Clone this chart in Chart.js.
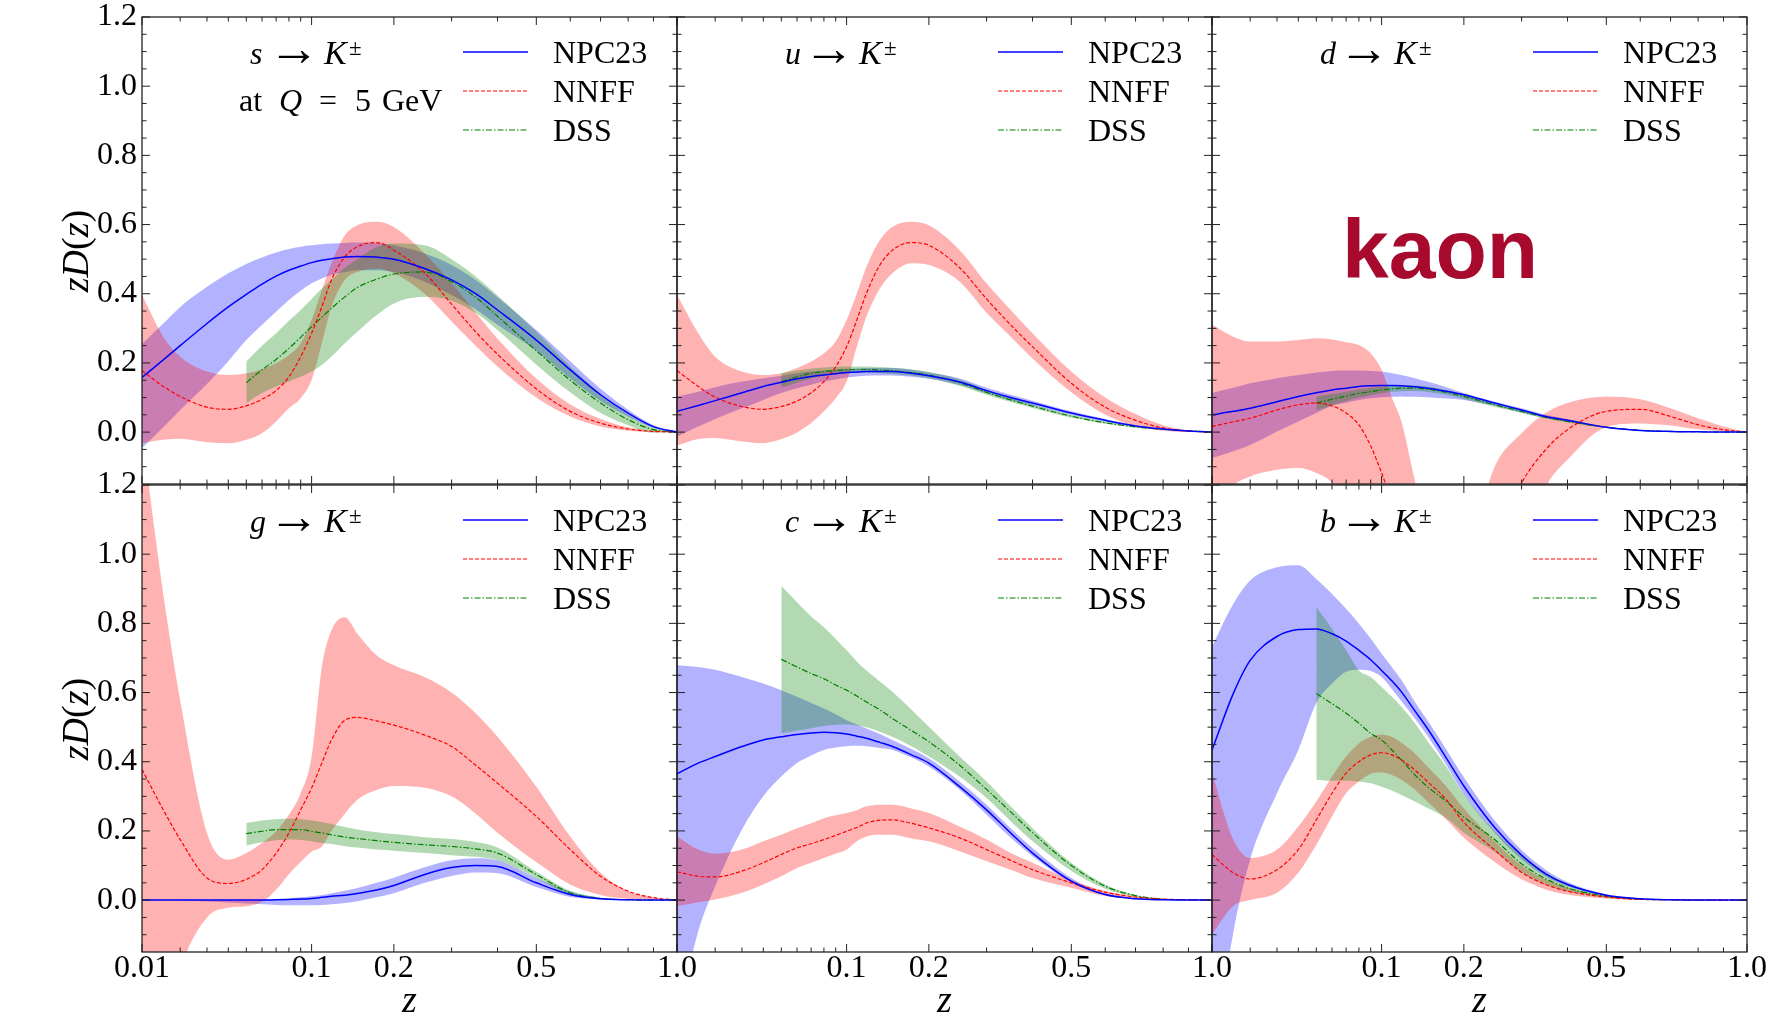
<!DOCTYPE html>
<html>
<head>
<meta charset="utf-8">
<script src="https://cdn.jsdelivr.net/npm/chart.js@4.4.1/dist/chart.umd.min.js"></script>
<style>
  body { margin: 0; background: #fff; }
  #wrap { position: relative; width: 1773px; height: 1017px; background: #fff; overflow: hidden; }
  #wrap canvas { position: absolute; }
</style>
</head>
<body>
<div id="wrap"></div>
<script>
// z grid shared by the curves (DSS only starts at z = 0.05)
const zGrid = [0.01, 0.015, 0.02, 0.03, 0.04, 0.05, 0.06, 0.07, 0.08, 0.09, 0.1, 0.11, 0.12, 0.135, 0.15, 0.175, 0.2, 0.25, 0.3, 0.35, 0.4, 0.5, 0.6, 0.7, 0.8, 0.9, 1.0];
const zDss = [0.05, 0.06, 0.07, 0.08, 0.09, 0.1, 0.11, 0.12, 0.135, 0.15, 0.175, 0.2, 0.25, 0.3, 0.35, 0.4, 0.5, 0.6, 0.7, 0.8, 0.9, 1.0];

// s -> K
const sNpc   = [0.158, 0.209, 0.25, 0.314, 0.362, 0.398, 0.428, 0.451, 0.468, 0.48, 0.49, 0.497, 0.501, 0.506, 0.508, 0.506, 0.5, 0.473, 0.44, 0.40, 0.353, 0.266, 0.18, 0.108, 0.055, 0.016, 0];
const sNpcHi = [0.255, 0.314, 0.362, 0.42, 0.459, 0.486, 0.505, 0.519, 0.529, 0.536, 0.54, 0.543, 0.545, 0.547, 0.548, 0.547, 0.54, 0.516, 0.483, 0.44, 0.39, 0.295, 0.205, 0.125, 0.065, 0.02, 0];
const sNpcLo = [-0.046, 0.014, 0.064, 0.139, 0.205, 0.266, 0.31, 0.348, 0.382, 0.409, 0.43, 0.444, 0.454, 0.463, 0.468, 0.468, 0.463, 0.435, 0.396, 0.355, 0.31, 0.235, 0.155, 0.09, 0.045, 0.012, 0];
const sNnff   = [0.178, 0.132, 0.103, 0.072, 0.066, 0.076, 0.095, 0.12, 0.16, 0.218, 0.286, 0.362, 0.44, 0.507, 0.536, 0.548, 0.526, 0.46, 0.37, 0.29, 0.225, 0.125, 0.06, 0.026, 0.009, 0.002, 0];
const sNnffHi = [0.396, 0.276, 0.218, 0.175, 0.165, 0.17, 0.182, 0.199, 0.223, 0.257, 0.324, 0.41, 0.488, 0.569, 0.598, 0.608, 0.593, 0.516, 0.43, 0.345, 0.27, 0.155, 0.08, 0.038, 0.014, 0.003, 0];
const sNnffLo = [-0.032, -0.022, -0.019, -0.029, -0.032, -0.022, -0.003, 0.031, 0.069, 0.098, 0.151, 0.257, 0.362, 0.44, 0.463, 0.473, 0.459, 0.40, 0.32, 0.25, 0.19, 0.10, 0.045, 0.016, 0.004, 0, 0];
const sDss   = [0.143, 0.18, 0.21, 0.242, 0.274, 0.305, 0.332, 0.358, 0.391, 0.418, 0.442, 0.457, 0.463, 0.435, 0.39, 0.335, 0.235, 0.15, 0.084, 0.036, 0.007, 0];
const sDssHi = [0.204, 0.25, 0.286, 0.322, 0.353, 0.385, 0.415, 0.44, 0.475, 0.5, 0.535, 0.545, 0.54, 0.5, 0.45, 0.395, 0.29, 0.19, 0.11, 0.05, 0.013, 0];
const sDssLo = [0.084, 0.113, 0.132, 0.146, 0.16, 0.175, 0.194, 0.218, 0.257, 0.29, 0.338, 0.372, 0.391, 0.38, 0.345, 0.295, 0.195, 0.115, 0.055, 0.02, -0.002, 0];

// u -> K
const uNpc   = [0.06, 0.077, 0.091, 0.114, 0.132, 0.144, 0.154, 0.161, 0.165, 0.169, 0.172, 0.174, 0.175, 0.175, 0.175, 0.17, 0.163, 0.145, 0.12, 0.1, 0.084, 0.055, 0.034, 0.018, 0.009, 0.003, 0];
const uNpcHi = [0.103, 0.117, 0.13, 0.146, 0.156, 0.163, 0.17, 0.175, 0.178, 0.181, 0.183, 0.184, 0.185, 0.185, 0.185, 0.18, 0.172, 0.155, 0.128, 0.108, 0.091, 0.06, 0.038, 0.02, 0.01, 0.003, 0];
const uNpcLo = [-0.013, 0.016, 0.038, 0.069, 0.093, 0.113, 0.127, 0.137, 0.146, 0.152, 0.158, 0.161, 0.163, 0.164, 0.164, 0.16, 0.154, 0.136, 0.112, 0.092, 0.077, 0.05, 0.03, 0.016, 0.008, 0.002, 0];
const uNnff   = [0.178, 0.132, 0.101, 0.074, 0.066, 0.074, 0.09, 0.114, 0.146, 0.189, 0.247, 0.324, 0.401, 0.483, 0.526, 0.548, 0.54, 0.475, 0.385, 0.31, 0.247, 0.141, 0.072, 0.034, 0.012, 0.003, 0];
const uNnffHi = [0.396, 0.286, 0.218, 0.175, 0.165, 0.17, 0.185, 0.204, 0.228, 0.262, 0.324, 0.401, 0.478, 0.555, 0.593, 0.608, 0.598, 0.526, 0.43, 0.353, 0.286, 0.175, 0.1, 0.052, 0.02, 0.005, 0];
const uNnffLo = [-0.039, -0.02, -0.017, -0.027, -0.032, -0.02, -0.001, 0.026, 0.06, 0.098, 0.146, 0.247, 0.334, 0.415, 0.459, 0.488, 0.483, 0.435, 0.345, 0.276, 0.213, 0.115, 0.05, 0.017, 0.004, 0, 0];
const uDss   = [0.146, 0.16, 0.17, 0.175, 0.178, 0.18, 0.181, 0.181, 0.179, 0.177, 0.172, 0.165, 0.143, 0.115, 0.093, 0.075, 0.046, 0.027, 0.015, 0.008, 0.004, 0];
const uDssHi = [0.17, 0.178, 0.184, 0.187, 0.189, 0.19, 0.19, 0.19, 0.188, 0.186, 0.181, 0.174, 0.152, 0.122, 0.099, 0.08, 0.05, 0.03, 0.017, 0.009, 0.004, 0];
const uDssLo = [0.129, 0.143, 0.155, 0.163, 0.167, 0.17, 0.172, 0.172, 0.17, 0.168, 0.163, 0.156, 0.134, 0.108, 0.087, 0.07, 0.042, 0.024, 0.013, 0.007, 0.003, 0];

// d -> K
const dNpc   = [0.05, 0.06, 0.069, 0.088, 0.103, 0.114, 0.122, 0.127, 0.132, 0.134, 0.135, 0.135, 0.134, 0.131, 0.127, 0.118, 0.108, 0.084, 0.064, 0.045, 0.034, 0.014, 0.005, 0.002, 0.001, 0, 0];
const dNpcHi = [0.113, 0.128, 0.141, 0.156, 0.165, 0.172, 0.177, 0.178, 0.178, 0.177, 0.175, 0.17, 0.165, 0.156, 0.146, 0.13, 0.113, 0.088, 0.069, 0.05, 0.038, 0.016, 0.006, 0.002, 0.001, 0, 0];
const dNpcLo = [-0.075, -0.055, -0.037, 0.002, 0.031, 0.055, 0.076, 0.085, 0.093, 0.098, 0.101, 0.102, 0.103, 0.102, 0.101, 0.097, 0.093, 0.076, 0.057, 0.04, 0.03, 0.012, 0.004, 0.001, 0, 0, 0];
const dNnff   = [0.016, 0.03, 0.04, 0.064, 0.079, 0.084, 0.076, 0.055, 0.021, -0.04, -0.118, -0.2, -0.28, -0.38, -0.45, -0.5, -0.48, -0.32, -0.147, -0.051, 0.007, 0.06, 0.066, 0.045, 0.021, 0.007, 0];
const dNnffHi = [0.31, 0.276, 0.262, 0.262, 0.266, 0.271, 0.268, 0.26, 0.252, 0.228, 0.18, 0.10, 0.03, -0.14, -0.28, -0.4, -0.38, -0.1, -0.003, 0.055, 0.084, 0.103, 0.095, 0.069, 0.04, 0.016, 0];
const dNnffLo = [-0.2, -0.152, -0.128, -0.109, -0.104, -0.118, -0.147, -0.22, -0.3, -0.4, -0.5, -0.6, -0.7, -0.75, -0.8, -0.8, -0.75, -0.55, -0.35, -0.16, -0.08, 0.015, 0.025, 0.019, 0.008, 0.002, 0];
const dDss   = [0.084, 0.095, 0.104, 0.112, 0.117, 0.122, 0.125, 0.127, 0.127, 0.124, 0.115, 0.103, 0.079, 0.06, 0.043, 0.031, 0.014, 0.005, 0.002, 0.001, 0, 0];
const dDssHi = [0.103, 0.11, 0.117, 0.124, 0.128, 0.132, 0.134, 0.135, 0.135, 0.132, 0.122, 0.11, 0.085, 0.065, 0.047, 0.034, 0.016, 0.006, 0.002, 0.001, 0, 0];
const dDssLo = [0.063, 0.078, 0.09, 0.1, 0.106, 0.112, 0.116, 0.118, 0.119, 0.116, 0.108, 0.096, 0.073, 0.055, 0.039, 0.028, 0.012, 0.004, 0.001, 0, 0, 0];

// g -> K
const gNpc   = [0, 0, 0, 0, 0, 0, 0, 0.001, 0.002, 0.003, 0.005, 0.008, 0.011, 0.014, 0.019, 0.029, 0.042, 0.074, 0.094, 0.1, 0.097, 0.05, 0.016, 0.004, 0.001, 0, 0];
const gNpcHi = [0.001, 0.001, 0.001, 0.001, 0.001, 0.001, 0.002, 0.003, 0.005, 0.008, 0.011, 0.015, 0.02, 0.027, 0.035, 0.05, 0.065, 0.095, 0.115, 0.121, 0.115, 0.064, 0.024, 0.007, 0.002, 0, 0];
const gNpcLo = [-0.001, -0.001, -0.002, -0.004, -0.007, -0.01, -0.012, -0.014, -0.015, -0.015, -0.015, -0.014, -0.012, -0.008, -0.003, 0.008, 0.02, 0.05, 0.07, 0.08, 0.078, 0.038, 0.009, 0.002, 0, 0, 0];
const gNnff   = [0.378, 0.261, 0.175, 0.064, 0.048, 0.06, 0.088, 0.136, 0.194, 0.261, 0.324, 0.396, 0.463, 0.52, 0.528, 0.518, 0.506, 0.477, 0.444, 0.39, 0.338, 0.242, 0.146, 0.069, 0.026, 0.007, 0];
const gNnffHi = [1.35, 0.885, 0.578, 0.194, 0.117, 0.136, 0.165, 0.199, 0.247, 0.309, 0.415, 0.674, 0.78, 0.818, 0.77, 0.708, 0.679, 0.645, 0.6, 0.54, 0.472, 0.328, 0.184, 0.079, 0.026, 0.007, 0];
const gNnffLo = [-0.6, -0.4, -0.2, -0.05, -0.022, -0.018, -0.005, 0.03, 0.075, 0.11, 0.14, 0.155, 0.2, 0.25, 0.29, 0.318, 0.33, 0.325, 0.3, 0.25, 0.195, 0.11, 0.045, 0.015, 0.004, 0.001, 0];
const gDss   = [0.192, 0.199, 0.204, 0.204, 0.204, 0.199, 0.194, 0.189, 0.182, 0.178, 0.172, 0.167, 0.16, 0.155, 0.148, 0.136, 0.074, 0.021, 0.005, 0.001, 0, 0];
const gDssHi = [0.223, 0.23, 0.234, 0.235, 0.234, 0.23, 0.225, 0.22, 0.211, 0.204, 0.196, 0.191, 0.182, 0.177, 0.168, 0.152, 0.082, 0.027, 0.007, 0.001, 0, 0];
const gDssLo = [0.158, 0.167, 0.173, 0.175, 0.174, 0.17, 0.165, 0.162, 0.156, 0.152, 0.146, 0.143, 0.136, 0.13, 0.125, 0.115, 0.064, 0.014, 0.003, 0, 0, 0];

// c -> K
const cNpc   = [0.365, 0.396, 0.415, 0.444, 0.463, 0.472, 0.479, 0.483, 0.485, 0.484, 0.48, 0.474, 0.468, 0.456, 0.444, 0.42, 0.396, 0.328, 0.261, 0.194, 0.136, 0.055, 0.016, 0.004, 0.001, 0, 0];
const cNpcHi = [0.679, 0.674, 0.666, 0.645, 0.626, 0.607, 0.588, 0.57, 0.554, 0.537, 0.52, 0.508, 0.496, 0.48, 0.463, 0.437, 0.41, 0.343, 0.276, 0.208, 0.151, 0.064, 0.019, 0.005, 0.001, 0, 0];
const cNpcLo = [-0.35, -0.09, 0.04, 0.204, 0.3, 0.357, 0.396, 0.418, 0.434, 0.441, 0.445, 0.446, 0.445, 0.44, 0.434, 0.412, 0.386, 0.319, 0.247, 0.18, 0.127, 0.05, 0.013, 0.003, 0, 0, 0];
const cNnff   = [0.082, 0.069, 0.067, 0.084, 0.108, 0.132, 0.151, 0.163, 0.175, 0.187, 0.199, 0.21, 0.223, 0.231, 0.232, 0.222, 0.209, 0.18, 0.146, 0.115, 0.088, 0.05, 0.023, 0.009, 0.003, 0.001, 0];
const cNnffHi = [0.184, 0.146, 0.134, 0.146, 0.17, 0.189, 0.208, 0.222, 0.237, 0.245, 0.252, 0.26, 0.271, 0.276, 0.276, 0.265, 0.252, 0.213, 0.175, 0.136, 0.108, 0.058, 0.026, 0.01, 0.003, 0.001, 0];
const cNnffLo = [-0.017, -0.006, 0.002, 0.021, 0.045, 0.069, 0.093, 0.108, 0.122, 0.134, 0.146, 0.17, 0.184, 0.189, 0.189, 0.178, 0.17, 0.141, 0.112, 0.088, 0.064, 0.036, 0.012, 0.004, 0.001, 0, 0];
const cDss   = [0.696, 0.674, 0.655, 0.64, 0.622, 0.607, 0.59, 0.573, 0.55, 0.525, 0.49, 0.458, 0.39, 0.32, 0.255, 0.195, 0.1, 0.04, 0.013, 0.003, 0.001, 0];
const cDssHi = [0.909, 0.861, 0.82, 0.789, 0.755, 0.722, 0.69, 0.664, 0.632, 0.602, 0.55, 0.501, 0.415, 0.343, 0.271, 0.208, 0.108, 0.045, 0.015, 0.004, 0.001, 0];
const cDssLo = [0.482, 0.49, 0.497, 0.503, 0.507, 0.508, 0.505, 0.5, 0.487, 0.472, 0.445, 0.415, 0.357, 0.295, 0.228, 0.17, 0.084, 0.033, 0.01, 0.002, 0, 0];

// b -> K
const bNpc   = [0.434, 0.597, 0.693, 0.762, 0.782, 0.784, 0.77, 0.749, 0.722, 0.695, 0.664, 0.634, 0.602, 0.547, 0.496, 0.41, 0.33, 0.21, 0.13, 0.076, 0.045, 0.014, 0.004, 0.001, 0, 0, 0];
const bNpcHi = [0.732, 0.856, 0.924, 0.962, 0.968, 0.928, 0.885, 0.842, 0.799, 0.756, 0.712, 0.674, 0.636, 0.573, 0.52, 0.435, 0.355, 0.23, 0.145, 0.088, 0.052, 0.017, 0.005, 0.001, 0, 0, 0];
const bNpcLo = [-0.5, -0.094, 0.117, 0.309, 0.434, 0.57, 0.626, 0.66, 0.666, 0.662, 0.645, 0.61, 0.575, 0.525, 0.475, 0.39, 0.305, 0.195, 0.118, 0.068, 0.04, 0.012, 0.003, 0.001, 0, 0, 0];
const bNnff   = [0.132, 0.079, 0.061, 0.088, 0.146, 0.232, 0.309, 0.367, 0.4, 0.42, 0.426, 0.42, 0.405, 0.376, 0.343, 0.29, 0.225, 0.145, 0.08, 0.045, 0.026, 0.009, 0.002, 0.001, 0, 0, 0];
const bNnffHi = [0.367, 0.175, 0.122, 0.146, 0.213, 0.285, 0.357, 0.415, 0.453, 0.472, 0.479, 0.472, 0.455, 0.424, 0.386, 0.328, 0.265, 0.17, 0.1, 0.06, 0.036, 0.013, 0.003, 0.001, 0, 0, 0];
const bNnffLo = [-0.099, -0.017, 0, 0.021, 0.079, 0.16, 0.242, 0.309, 0.343, 0.365, 0.369, 0.362, 0.348, 0.319, 0.285, 0.232, 0.18, 0.11, 0.06, 0.031, 0.016, 0.005, 0.001, 0, 0, 0, 0];
const bDss   = [0.597, 0.568, 0.54, 0.511, 0.482, 0.463, 0.434, 0.405, 0.362, 0.328, 0.285, 0.24, 0.175, 0.105, 0.062, 0.035, 0.011, 0.003, 0.001, 0, 0, 0];
const bDssHi = [0.847, 0.784, 0.722, 0.664, 0.645, 0.616, 0.588, 0.559, 0.511, 0.46, 0.385, 0.305, 0.2, 0.13, 0.08, 0.048, 0.015, 0.004, 0.001, 0, 0, 0];
const bDssLo = [0.348, 0.345, 0.345, 0.343, 0.338, 0.328, 0.317, 0.304, 0.285, 0.266, 0.237, 0.195, 0.14, 0.08, 0.045, 0.025, 0.007, 0.001, 0, 0, 0, 0];

// axes
const xMajor = [0.01, 0.1, 0.2, 0.5, 1.0];
const xTickLabels = ['0.01', '0.1', '0.2', '0.5', '1.0'];
const xMinor = [0.02, 0.03, 0.04, 0.05, 0.06, 0.07, 0.08, 0.09, 0.3, 0.4, 0.6, 0.7, 0.8, 0.9];
const yMajor = [0, 0.2, 0.4, 0.6, 0.8, 1.0, 1.2];
const yTickLabels = ['0.0', '0.2', '0.4', '0.6', '0.8', '1.0', '1.2'];
const yMinor = [-0.1, -0.05, 0.05, 0.1, 0.15, 0.25, 0.3, 0.35, 0.45, 0.5, 0.55, 0.65, 0.7, 0.75, 0.85, 0.9, 0.95, 1.05, 1.1, 1.15];
const seriesNames = ['NPC23', 'NNFF', 'DSS'];

const panels = [
  { parton: 's', row: 0, col: 0, npc: [sNpc, sNpcHi, sNpcLo], nnff: [sNnff, sNnffHi, sNnffLo], dss: [sDss, sDssHi, sDssLo] },
  { parton: 'u', row: 0, col: 1, npc: [uNpc, uNpcHi, uNpcLo], nnff: [uNnff, uNnffHi, uNnffLo], dss: [uDss, uDssHi, uDssLo] },
  { parton: 'd', row: 0, col: 2, npc: [dNpc, dNpcHi, dNpcLo], nnff: [dNnff, dNnffHi, dNnffLo], dss: [dDss, dDssHi, dDssLo] },
  { parton: 'g', row: 1, col: 0, npc: [gNpc, gNpcHi, gNpcLo], nnff: [gNnff, gNnffHi, gNnffLo], dss: [gDss, gDssHi, gDssLo] },
  { parton: 'c', row: 1, col: 1, npc: [cNpc, cNpcHi, cNpcLo], nnff: [cNnff, cNnffHi, cNnffLo], dss: [cDss, cDssHi, cDssLo] },
  { parton: 'b', row: 1, col: 2, npc: [bNpc, bNpcHi, bNpcLo], nnff: [bNnff, bNnffHi, bNnffLo], dss: [bDss, bDssHi, bDssLo] }
];

const styles = [
  { color: '#0000ff', band: 'rgba(0,0,255,0.3)', width: 1.5, dash: [] },
  { color: '#ff0000', band: 'rgba(255,0,0,0.3)', width: 1.2, dash: [4, 2] },
  { color: '#008000', band: 'rgba(0,128,0,0.3)', width: 1.2, dash: [6, 2, 1.5, 2] }
];

// layout of the 2x3 grid
const PANEL_W = 535, PANEL_H = 468;
const colLeft = [142, 677, 1212];
const rowTop = [16, 484];
const ML = 110, MR = 30, MT = 20, MB = 90;

const SERIF = '"Liberation Serif", "DejaVu Serif", serif';
const RM = '32px ' + SERIF;
const IT = 'italic 32px ' + SERIF;

// x axis is linear in z^(1/3)
class CubeRootScale extends Chart.LinearScale {
  buildTicks() {
    return xMajor.map(v => ({ value: v }));
  }
  configure() {
    super.configure();
    this._c0 = Math.cbrt(this.min);
    this._c1 = Math.cbrt(this.max);
  }
  getPixelForValue(value) {
    return this.getPixelForDecimal((Math.cbrt(value) - this._c0) / (this._c1 - this._c0));
  }
  getValueForPixel(pixel) {
    const d = this.getDecimalForPixel(pixel);
    return Math.pow(this._c0 + d * (this._c1 - this._c0), 3);
  }
}
CubeRootScale.id = 'cuberoot';
CubeRootScale.defaults = Chart.LinearScale.defaults;
Chart.register(CubeRootScale);

const pts = (zs, ys) => zs.map((z, i) => ({ x: z, y: ys[i] }));

function drawRuns(ctx, x, y, runs) {
  for (const [text, font, dx = 0, dy = 0] of runs) {
    ctx.font = font;
    x += dx;
    ctx.fillText(text, x, y + dy);
    x += ctx.measureText(text).width;
  }
  return x;
}

// arrow glyph stretched so its ink spans the given box
function drawArrow(ctx, left, centerY, inkW, inkH) {
  ctx.font = RM;
  const m = ctx.measureText('\u2192');
  const w = (m.actualBoundingBoxLeft + m.actualBoundingBoxRight) || 20;
  const h = (m.actualBoundingBoxAscent + m.actualBoundingBoxDescent) || 12;
  const sx = inkW / w;
  const sy = Math.min(1.6, Math.max(0.8, inkH / h));
  ctx.save();
  ctx.translate(left, centerY);
  ctx.scale(sx, sy);
  ctx.fillText('\u2192', m.actualBoundingBoxLeft, (m.actualBoundingBoxAscent - m.actualBoundingBoxDescent) / 2);
  ctx.restore();
}

function makeDecor(p) {
  return {
    id: 'decor',
    afterDraw(chart) {
      const { ctx, chartArea: a, scales: { x, y } } = chart;
      ctx.save();

      // inward ticks on all four sides
      ctx.strokeStyle = '#222';
      ctx.lineWidth = 1;
      ctx.beginPath();
      const xt = (v, len) => {
        const px = x.getPixelForValue(v);
        ctx.moveTo(px, a.bottom); ctx.lineTo(px, a.bottom - len);
        ctx.moveTo(px, a.top); ctx.lineTo(px, a.top + len);
      };
      const yt = (v, len) => {
        const py = y.getPixelForValue(v);
        ctx.moveTo(a.left, py); ctx.lineTo(a.left + len, py);
        ctx.moveTo(a.right, py); ctx.lineTo(a.right - len, py);
      };
      xMajor.forEach(v => xt(v, 8));
      xMinor.forEach(v => xt(v, 4.5));
      yMajor.forEach(v => yt(v, 8));
      yMinor.forEach(v => yt(v, 4.5));
      ctx.stroke();
      ctx.lineWidth = 1.3;
      ctx.strokeRect(a.left, a.top, a.right - a.left, a.bottom - a.top);

      ctx.fillStyle = '#000';
      ctx.textBaseline = 'alphabetic';
      ctx.textAlign = 'left';

      // panel title: parton -> K±
      const ty = a.top + 47;
      ctx.font = IT;
      ctx.fillText(p.parton, a.left + 108, ty);
      drawArrow(ctx, a.left + 136, ty - 8, 32, 14);
      ctx.font = 'italic 34px ' + SERIF;
      ctx.fillText('K', a.left + 182, ty);
      ctx.font = '23px ' + SERIF;
      ctx.fillText('\u00b1', a.left + 207, ty - 9);
      if (p.parton === 's') {
        const qy = a.top + 94;
        ctx.font = RM; ctx.fillText('at', a.left + 97, qy);
        ctx.font = IT; ctx.fillText('Q', a.left + 137, qy);
        ctx.font = RM; ctx.fillText('=', a.left + 177, qy);
        ctx.fillText('5', a.left + 213, qy);
        ctx.fillText('GeV', a.left + 240, qy);
      }

      // legend
      const rows = [35, 74, 113];
      styles.forEach((s, i) => {
        const ly = a.top + rows[i];
        ctx.strokeStyle = s.color;
        ctx.lineWidth = s.width;
        ctx.setLineDash(s.dash);
        ctx.beginPath();
        ctx.moveTo(a.left + 321, ly);
        ctx.lineTo(a.left + 386, ly);
        ctx.stroke();
        ctx.setLineDash([]);
        ctx.font = RM;
        ctx.fillText(seriesNames[i], a.left + 411, ly + 11);
      });

      if (p.parton === 'd') {
        ctx.fillStyle = '#a80a2d';
        ctx.font = 'bold 84px "Liberation Sans", Arial, sans-serif';
        ctx.fillText('kaon', a.left + 130, a.top + 261);
        ctx.fillStyle = '#000';
      }

      // axis titles
      if (p.col === 0) {
        const f = 'italic 38px ' + SERIF, r = '38px ' + SERIF;
        const runs = [['z', f], ['D', f], ['(', r], ['z', f], [')', r]];
        let w = 0;
        runs.forEach(([t, fo]) => { ctx.font = fo; w += ctx.measureText(t).width; });
        ctx.save();
        ctx.translate(a.left - 54, a.top + PANEL_H / 2);
        ctx.rotate(-Math.PI / 2);
        drawRuns(ctx, -w / 2, 0, runs);
        ctx.restore();
      }
      if (p.row === 1) {
        ctx.font = 'italic 38px ' + SERIF;
        ctx.textAlign = 'center';
        ctx.fillText('z', (a.left + a.right) / 2, a.bottom + 60);
      }
      ctx.restore();
    }
  };
}

const wrap = document.getElementById('wrap');

panels.forEach(p => {
  const cv = document.createElement('canvas');
  const W = PANEL_W + ML + MR, H = PANEL_H + MT + MB;
  cv.width = W;
  cv.height = H;
  cv.style.left = (colLeft[p.col] - ML) + 'px';
  cv.style.top = (rowTop[p.row] - MT) + 'px';
  wrap.appendChild(cv);

  const sets = [p.npc, p.nnff, p.dss];
  const zs = [zGrid, zGrid, zDss];
  const lines = sets.map((s, i) => ({
    label: seriesNames[i],
    data: pts(zs[i], s[0]),
    borderColor: styles[i].color,
    borderWidth: styles[i].width,
    borderDash: styles[i].dash,
    fill: false,
    order: 0
  }));
  // bands: DSS on top, then NNFF, then NPC23 at the bottom
  const bands = [];
  [2, 1, 0].forEach(i => {
    bands.push({
      data: pts(zs[i], sets[i][1]),
      borderColor: 'rgba(0,0,0,0)',
      borderWidth: 0,
      backgroundColor: styles[i].band,
      fill: '+1',
      order: 1
    });
    bands.push({
      data: pts(zs[i], sets[i][2]),
      borderColor: 'rgba(0,0,0,0)',
      borderWidth: 0,
      fill: false,
      order: 1
    });
  });

  new Chart(cv, {
    type: 'line',
    data: { datasets: lines.concat(bands) },
    options: {
      responsive: false,
      animation: false,
      events: [],
      layout: { padding: { top: MT, right: MR, left: 0, bottom: 0 } },
      elements: {
        point: { radius: 0 },
        line: { cubicInterpolationMode: 'monotone' }
      },
      plugins: {
        legend: { display: false },
        tooltip: { enabled: false },
        filler: { propagate: false }
      },
      scales: {
        x: {
          type: 'cuberoot',
          min: 0.01,
          max: 1,
          grid: { display: false, drawTicks: false },
          border: { display: false },
          ticks: {
            autoSkip: false,
            maxRotation: 0,
            padding: 1,
            color: '#000',
            font: { family: SERIF, size: 32, lineHeight: 1 },
            callback: (v, i) => (p.row === 1 && !(p.col > 0 && i === 0)) ? xTickLabels[i] : ''
          },
          afterFit: s => { s.height = MB; }
        },
        y: {
          type: 'linear',
          min: -0.15,
          max: 1.2,
          grid: { display: false, drawTicks: false },
          border: { display: false },
          afterBuildTicks: s => { s.ticks = yMajor.map(v => ({ value: v })); },
          ticks: {
            autoSkip: false,
            padding: 5,
            color: '#000',
            font: { family: SERIF, size: 32, lineHeight: 1 },
            callback: (v, i) => p.col === 0 ? yTickLabels[i] : ''
          },
          afterFit: s => { s.width = ML; }
        }
      }
    },
    plugins: [makeDecor(p)]
  });
});
</script>
</body>
</html>
